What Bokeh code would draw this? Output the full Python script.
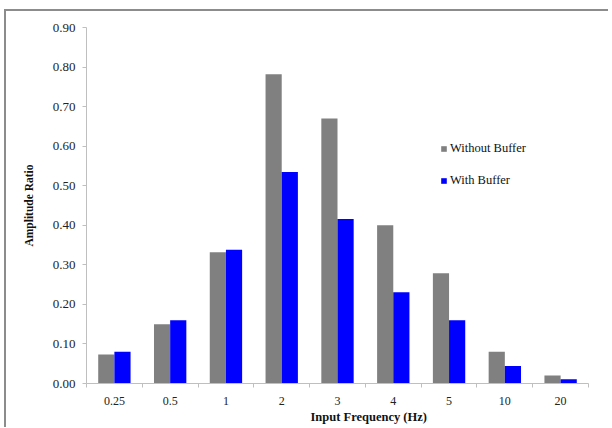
from bokeh.plotting import figure
from bokeh.models import ColumnDataSource, FixedTicker, Legend, LegendItem, Range1d, Title
from bokeh.embed import file_html
from bokeh.resources import INLINE

categories = ["0.25", "0.5", "1", "2", "3", "4", "5", "10", "20"]
without_buffer = [0.073, 0.150, 0.332, 0.782, 0.670, 0.400, 0.279, 0.080, 0.020]
with_buffer = [0.080, 0.160, 0.338, 0.535, 0.416, 0.231, 0.160, 0.044, 0.011]
y_ticks = [0.0, 0.1, 0.2, 0.3, 0.4, 0.5, 0.6, 0.7, 0.8, 0.9]

FONT = "Liberation Serif"
GRAY = "#808080"
BLUE = "#0000ff"
AXIS = "#bfbfbf"

idx = list(range(len(categories)))
centers = [i + 0.5 for i in idx]
bar_w = 0.29
src = ColumnDataSource(dict(
    x1=[c - bar_w / 2 for c in centers],
    x2=[c + bar_w / 2 for c in centers],
    wo=without_buffer,
    wi=with_buffer,
))

p = figure(
    output_backend="svg", toolbar_location=None,
    frame_width=502, frame_height=356,
    min_border_left=80, min_border_right=20, min_border_top=16, min_border_bottom=44,
    x_range=Range1d(0, len(categories)), y_range=Range1d(0, 0.9),
)
p.styles = {"border-top": "2px solid #8c8c8c", "border-left": "2px solid #8c8c8c",
            "margin-left": "4px", "margin-top": "9px"}
p.outline_line_color = None
p.grid.grid_line_color = None
p.background_fill_color = "white"
p.border_fill_color = "white"

r1 = p.vbar(x="x1", top="wo", bottom=0, width=bar_w, source=src,
            fill_color=GRAY, line_color=None)
r2 = p.vbar(x="x2", top="wi", bottom=0, width=bar_w, source=src,
            fill_color=BLUE, line_color=None)

# y axis
ya = p.yaxis[0]
ya.ticker = FixedTicker(ticks=y_ticks, minor_ticks=[])
ya.major_label_overrides = {t: f"{t:.2f}" for t in y_ticks}
ya.axis_line_color = AXIS
ya.major_tick_line_color = AXIS
ya.major_tick_out = 4
ya.major_tick_in = 0
ya.minor_tick_line_color = None
ya.major_label_text_font = FONT
ya.major_label_text_font_size = "13px"
ya.major_label_text_color = "#222222"
ya.major_label_standoff = 7
ya.axis_label = "Amplitude Ratio"
ya.axis_label_text_font = FONT
ya.axis_label_text_font_style = "bold"
ya.axis_label_text_font_size = "11.5px"
ya.axis_label_text_color = "#111111"
ya.axis_label_standoff = 15

# x axis
xa = p.xaxis[0]
xa.ticker = FixedTicker(ticks=centers, minor_ticks=list(range(len(categories) + 1)))
xa.major_label_overrides = {c: lab for c, lab in zip(centers, categories)}
xa.axis_line_color = AXIS
xa.major_tick_line_color = None
xa.minor_tick_line_color = AXIS
xa.minor_tick_out = 4
xa.minor_tick_in = 0
xa.major_label_text_font = FONT
xa.major_label_text_font_size = "12px"
xa.major_label_text_color = "#222222"
xa.major_label_standoff = 7

x_title = Title(text="Input Frequency (Hz)", align="left", offset=224, standoff=1,
                text_font=FONT, text_font_style="bold", text_font_size="12.5px",
                text_color="#111111")
p.add_layout(x_title, "below")

legend = Legend(
    items=[LegendItem(label="Without Buffer", renderers=[r1]),
           LegendItem(label="With Buffer", renderers=[r2])],
    location=(354, 193),
    glyph_width=7, glyph_height=7, label_standoff=3,
    label_height=20, spacing=12, padding=0, margin=0,
    label_text_font=FONT, label_text_font_size="12.5px", label_text_color="#111111",
    border_line_color=None, background_fill_alpha=0,
)
p.add_layout(legend)

open("out.html", "w").write(file_html(p, INLINE))
